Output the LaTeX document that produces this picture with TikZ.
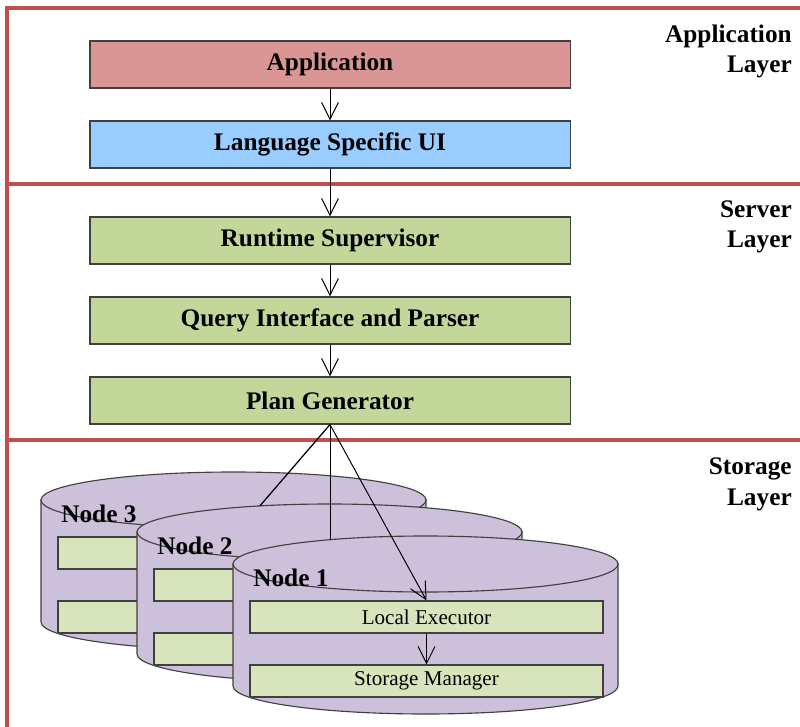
\documentclass[tikz,border=0pt]{standalone}
\usepackage{fontspec}
\setmainfont{Liberation Serif}
\usetikzlibrary{arrows.meta,calc}
\definecolor{framered}{RGB}{192,80,77}
\definecolor{apppink}{RGB}{218,150,148}
\definecolor{uiblue}{RGB}{153,204,255}
\definecolor{srvgreen}{RGB}{196,215,155}
\definecolor{cylpurple}{RGB}{204,192,218}
\definecolor{innergreen}{RGB}{216,228,188}
\definecolor{edgegray}{RGB}{64,64,64}
\begin{document}
\begin{tikzpicture}[x=0.025cm, y=0.025cm,
  frame/.style={framered, line width=2.2pt},
  layerbox/.style={draw=edgegray, line width=0.8pt, minimum width=12cm, minimum height=1.175cm, inner sep=0pt, font=\fontsize{18}{22}\selectfont\bfseries},
  innerbox/.style={draw=edgegray, line width=0.8pt, fill=innergreen, minimum width=8.825cm, minimum height=0.8cm, inner sep=0pt, font=\fontsize{15}{18}\selectfont},
  layerlabel/.style={anchor=base east, align=right, inner sep=0pt, font=\fontsize{18}{22}\selectfont\bfseries},
  nodelabel/.style={anchor=base west, inner sep=0pt, font=\fontsize{18}{22}\selectfont\bfseries},
  cyl/.style={draw=edgegray, line width=0.8pt, fill=cylpurple},
  flow/.style={-{Straight Barb[length=12pt, width=12pt]}, line width=0.7pt}]
\useasboundingbox (0,0) rectangle (800,-727);
\draw[frame] (800,-8) -- (7,-8) -- (7,-727);
\draw[frame] (7,-184) -- (800,-184);
\draw[frame] (7,-440) -- (800,-440);
\node[layerlabel] (applbl) at (792,-73) {Application\\Layer};
\node[layerlabel] (srvlbl) at (792,-248) {Server\\Layer};
\node[layerlabel] (stolbl) at (792,-505) {Storage\\Layer};
\node[layerbox, fill=apppink] (app) at (330,-64.5) {Application};
\node[layerbox, fill=uiblue] (ui) at (330,-144.5) {Language Specific UI};
\node[layerbox, fill=srvgreen] (rts) at (330,-240.5) {Runtime Supervisor};
\node[layerbox, fill=srvgreen] (qip) at (330,-320.5) {Query Interface and Parser};
\node[layerbox, fill=srvgreen] (pg) at (330,-400.5) {Plan Generator};
\draw[flow] (app) -- (ui);
\draw[flow] (ui) -- (rts);
\draw[flow] (rts) -- (qip);
\draw[flow] (qip) -- (pg);
\foreach \n/\dx/\dy in {3/-192/64, 2/-96/32, 1/0/0}{
  \begin{scope}[shift={(\dx,\dy)}]
    \draw[cyl] (233,-564) -- (233,-686) arc[start angle=180, end angle=360, x radius=192.5, y radius=28] -- (618,-564) -- cycle;
    \draw[cyl] (425.5,-564) ellipse[x radius=192.5, y radius=28];
    \coordinate (top\n) at (425.5,-564);
    \node[nodelabel] (lbl\n) at (253,-586) {Node \n};
    \node[innerbox] (le\n) at (426.5,-617) {\ifnum\n=1 Local Executor\fi};
    \node[innerbox] (sm\n) at (426.5,-681) {\ifnum\n=1 Storage Manager\fi};
  \end{scope}
}
\coordinate (hit2) at ($(top2)+(111.2:192.5 and 28)$);
\coordinate (hit1) at ($(top1)+(119.7:192.5 and 28)$);
\draw[line width=0.9pt] (pg.south) -- (hit2);
\draw[line width=0.7pt] (pg.south) -- (pg.south |- hit1);
\draw[flow] (pg.south) -- (le1.north);
\draw[flow] (le1) -- (sm1);
\end{tikzpicture}
\end{document}
